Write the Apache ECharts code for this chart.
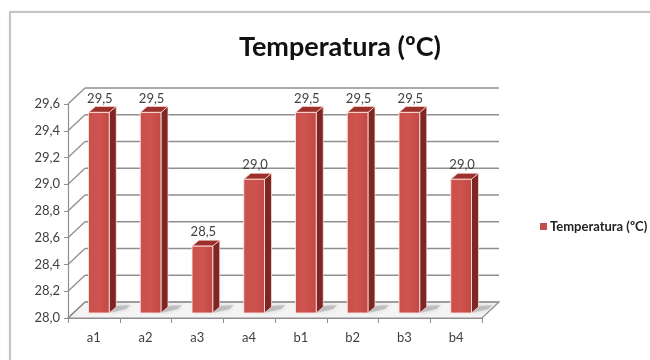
<!DOCTYPE html>
<html>
<head>
<meta charset="utf-8">
<script src="https://cdn.jsdelivr.net/npm/echarts@6/dist/echarts.min.js"></script>
<style>
  html, body { margin: 0; padding: 0; background: #fff; }
  #chart { width: 650px; height: 360px; }
</style>
</head>
<body>
<div id="chart"></div>
<script>
// Chart data
const categories = ['a1', 'a2', 'a3', 'a4', 'b1', 'b2', 'b3', 'b4'];
const temperatures = [29.5, 29.5, 28.5, 29.0, 29.5, 29.5, 29.5, 29.0];
const yTicks = [28.0, 28.2, 28.4, 28.6, 28.8, 29.0, 29.2, 29.4, 29.6];
const seriesName = 'Temperatura (ºC)';

// Pseudo-3D projection offsets (pixels)
const WALL_DX = 17, WALL_DY = -16;   // back wall relative to front plane
const BAR_DX = 5, BAR_DY = -5;       // bar front face relative to front plane
const DEPTH_DX = 7, DEPTH_DY = -6;   // bar depth
const FONT = 'Lato, "Noto Sans", sans-serif';

const fmt = v => v.toFixed(1).replace('.', ',');

const chart = echarts.init(document.getElementById('chart'), null, { renderer: 'canvas' });

// Back wall gridlines, side-wall diagonals and floor
function renderWalls(params, api) {
  const cs = params.coordSys;
  const v = api.value(0);
  const y = api.coord([0, v])[1];
  const x0 = cs.x, x1 = cs.x + cs.width;
  const children = [];
  const lineStyle = { stroke: '#8f8f8f', lineWidth: 1.3 };
  children.push({
    type: 'line',
    shape: { x1: x0 + WALL_DX, y1: y + WALL_DY, x2: x1 + WALL_DX, y2: y + WALL_DY },
    style: lineStyle
  });
  children.push({
    type: 'line',
    shape: { x1: x0, y1: y, x2: x0 + WALL_DX, y2: y + WALL_DY },
    style: lineStyle
  });
  if (params.dataIndex === 0) {
    children.unshift({
      type: 'polygon',
      shape: { points: [[x0, y], [x1, y], [x1 + WALL_DX, y + WALL_DY], [x0 + WALL_DX, y + WALL_DY]] },
      style: { fill: '#f4f4f4', stroke: '#8f8f8f', lineWidth: 1.2 }
    });
  }
  return { type: 'group', children };
}

// 3D-looking columns: front face, side face, top face, floor shadow and value label
function renderBars(params, api) {
  const idx = api.value(0);
  const v = api.value(1);
  const base = api.coord([idx, 28.0]);
  const top = api.coord([idx, v]);
  const w = api.size([1, 0])[0] * 0.4;
  const cx = base[0] + BAR_DX;
  const l = cx - w / 2, r = cx + w / 2;
  const yb = base[1] + BAR_DY, yt = top[1] + BAR_DY;
  const edge = 'rgba(255,225,220,0.9)';
  return {
    type: 'group',
    children: [
      {
        type: 'polygon',
        shape: { points: [[r, yb], [r + DEPTH_DX + 10, yb + DEPTH_DY + 2], [r + DEPTH_DX + 14, yb + DEPTH_DY - 2], [r + DEPTH_DX, yb + DEPTH_DY - 1]] },
        style: { fill: 'rgba(150,150,150,0.45)', shadowBlur: 4, shadowColor: 'rgba(120,120,120,0.6)' }
      },
      {
        type: 'polygon',
        shape: { points: [[r, yt], [r + DEPTH_DX, yt + DEPTH_DY], [r + DEPTH_DX, yb + DEPTH_DY], [r, yb]] },
        style: { fill: '#7e2624', stroke: edge, lineWidth: 0.8 }
      },
      {
        type: 'polygon',
        shape: { points: [[l, yt], [l + DEPTH_DX, yt + DEPTH_DY], [r + DEPTH_DX, yt + DEPTH_DY], [r, yt]] },
        style: { fill: '#9b302d', stroke: edge, lineWidth: 0.8 }
      },
      {
        type: 'rect',
        shape: { x: l, y: yt, width: w, height: yb - yt },
        style: {
          fill: new echarts.graphic.LinearGradient(0, 0, 1, 0, [
            { offset: 0, color: '#c9504c' },
            { offset: 0.5, color: '#cf5450' },
            { offset: 1, color: '#c04844' }
          ]),
          stroke: edge, lineWidth: 1
        }
      },
      {
        type: 'text',
        style: {
          x: cx + 1, y: yt - 14, text: fmt(v),
          fill: '#404040', font: '13px ' + FONT,
          textAlign: 'center', textVerticalAlign: 'middle'
        }
      }
    ]
  };
}

chart.setOption({
  animation: false,
  backgroundColor: '#ffffff',
  title: {
    text: 'Temperatura (ºC)',
    left: 335, top: 29, textAlign: 'center',
    textStyle: { fontFamily: FONT, fontSize: 27, fontWeight: 'bold', color: '#111' }
  },
  legend: {
    left: 535, top: 215,
    icon: 'rect', itemWidth: 7, itemHeight: 7, itemGap: 4,
    textStyle: { fontFamily: FONT, fontSize: 13, fontWeight: 'bold', color: '#222', padding: [0, 0, 0, -2] },
    data: [seriesName]
  },
  grid: { left: 68, right: 168, top: 104, bottom: 42 },
  xAxis: {
    type: 'category',
    data: categories,
    axisLine: { show: true, lineStyle: { color: '#8f8f8f', width: 1.2 } },
    axisTick: { show: true, interval: 0, length: 5, lineStyle: { color: '#8f8f8f' } },
    axisLabel: { margin: 13, fontFamily: FONT, fontSize: 13, color: '#404040' },
    splitLine: { show: false }
  },
  yAxis: {
    type: 'value',
    min: 28.0, max: 29.6, interval: 0.2,
    axisLine: { show: true, lineStyle: { color: '#8f8f8f', width: 1.2 } },
    axisTick: { show: true, length: 4, lineStyle: { color: '#8f8f8f' } },
    axisLabel: { margin: 8, fontFamily: FONT, fontSize: 13, color: '#404040', formatter: v => fmt(v) },
    splitLine: { show: false }
  },
  graphic: [{
    type: 'rect', z: -10,
    shape: { x: 10, y: 12, width: 700, height: 400 },
    style: { fill: '#ffffff', stroke: '#b5b5b5', lineWidth: 1.5, shadowBlur: 3, shadowColor: 'rgba(0,0,0,0.08)' }
  }],
  series: [
    {
      type: 'custom',
      name: 'walls',
      silent: true,
      z: 1,
      renderItem: renderWalls,
      encode: { y: 0 },
      data: yTicks.map(v => [v])
    },
    {
      type: 'custom',
      name: seriesName,
      z: 3,
      itemStyle: { color: '#c0504d' },
      renderItem: renderBars,
      encode: { x: 0, y: 1 },
      data: temperatures.map((v, i) => [i, v])
    }
  ]
});
</script>
</body>
</html>
